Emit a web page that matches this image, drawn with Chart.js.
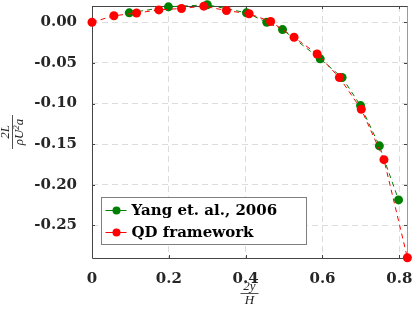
<!DOCTYPE html>
<html>
<head>
<meta charset="utf-8">
<script src="https://cdn.jsdelivr.net/npm/chart.js@4"></script>
<style>
html, body { margin: 0; padding: 0; background: #fff; }
#c { display: block; }
</style>
</head>
<body>
<canvas id="c" width="415" height="316"></canvas>
<script>
// Yang et. al., 2006
var yangX = [0.097, 0.199, 0.300, 0.402, 0.455, 0.496, 0.594, 0.651, 0.699, 0.748, 0.798];
var yangY = [0.0116, 0.019, 0.0215, 0.0116, 0.0, -0.009, -0.045, -0.068, -0.1025, -0.152, -0.2185];
// QD framework
var qdX = [0, 0.057, 0.116, 0.174, 0.233, 0.291, 0.350, 0.409, 0.465, 0.526, 0.586, 0.644, 0.701, 0.760, 0.821];
var qdY = [0, 0.0080, 0.0114, 0.0152, 0.0169, 0.0198, 0.0144, 0.0104, 0.0009, -0.0185, -0.039, -0.068, -0.107, -0.169, -0.2897];

var xTicks = [0, 0.2, 0.4, 0.6, 0.8];
var yTicks = [0, -0.05, -0.10, -0.15, -0.20, -0.25];
var seriesNames = ['Yang et. al., 2006', 'QD framework'];
var seriesColors = ['#008000', '#ff0000'];

function toPoints(xs, ys) {
    return xs.map(function (x, i) { return { x: x, y: ys[i] }; });
}

var tickFont = { family: 'DejaVu Serif', size: 15, weight: 'bold' };

// cadre, petites graduations internes, titres d'axes et légende
var decor = {
    id: 'decor',
    beforeDatasetsDraw: function (chart) {
        var ctx = chart.ctx, a = chart.chartArea;
        var xs = chart.scales.x, ys = chart.scales.y;
        ctx.save();
        ctx.lineWidth = 1;
        ctx.strokeStyle = '#9a9a9a';
        ctx.beginPath();
        ctx.moveTo(Math.round(a.right) + 0.5, Math.round(a.top));
        ctx.lineTo(Math.round(a.right) + 0.5, Math.round(a.bottom));
        ctx.stroke();
        ctx.strokeStyle = '#444';
        ctx.beginPath();
        ctx.moveTo(Math.round(a.left) + 0.5, Math.round(a.top) + 0.5);
        ctx.lineTo(Math.round(a.right) + 0.5, Math.round(a.top) + 0.5);
        ctx.moveTo(Math.round(a.left) + 0.5, Math.round(a.top));
        ctx.lineTo(Math.round(a.left) + 0.5, Math.round(a.bottom) + 0.5);
        ctx.lineTo(Math.round(a.right) + 0.5, Math.round(a.bottom) + 0.5);
        ctx.stroke();
        // graduations vers l'intérieur
        ctx.beginPath();
        xTicks.forEach(function (v) {
            var px = Math.round(xs.getPixelForValue(v)) + 0.5;
            ctx.moveTo(px, a.bottom); ctx.lineTo(px, a.bottom - 3);
            ctx.moveTo(px, a.top); ctx.lineTo(px, a.top + 3);
        });
        yTicks.forEach(function (v) {
            var py = Math.round(ys.getPixelForValue(v)) + 0.5;
            ctx.moveTo(a.left, py); ctx.lineTo(a.left + 3, py);
            ctx.moveTo(a.right, py); ctx.lineTo(a.right - 3, py);
        });
        ctx.stroke();
        ctx.restore();
    },
    afterDraw: function (chart) {
        var ctx = chart.ctx, a = chart.chartArea;
        ctx.save();
        ctx.fillStyle = '#262626';
        ctx.strokeStyle = '#262626';
        ctx.lineWidth = 0.8;
        ctx.textAlign = 'center';

        // titre axe x : 2y / H
        var cx = (a.left + a.right) / 2;
        ctx.textBaseline = 'alphabetic';
        ctx.font = 'italic 13px "Liberation Serif"';
        ctx.fillText('2y', cx, 290);
        ctx.beginPath();
        ctx.moveTo(cx - 9, 293.5); ctx.lineTo(cx + 9, 293.5);
        ctx.stroke();
        ctx.fillText('H', cx, 304);

        // titre axe y : 2L / (rho U^2 a)
        var cy = (a.top + a.bottom) / 2;
        ctx.translate(12, cy);
        ctx.rotate(-Math.PI / 2);
        ctx.fillText('2L', 0, -3);
        ctx.beginPath();
        ctx.moveTo(-17, 0.5); ctx.lineTo(17, 0.5);
        ctx.stroke();
        ctx.textAlign = 'left';
        var w1 = ctx.measureText('ρU').width;
        ctx.font = 'italic 9px "Liberation Serif"';
        var w2 = ctx.measureText('2').width;
        ctx.font = 'italic 13px "Liberation Serif"';
        var w3 = ctx.measureText('a').width;
        var x0 = -(w1 + w2 + w3) / 2;
        ctx.fillText('ρU', x0, 11);
        ctx.font = 'italic 9px "Liberation Serif"';
        ctx.fillText('2', x0 + w1, 7);
        ctx.font = 'italic 13px "Liberation Serif"';
        ctx.fillText('a', x0 + w1 + w2, 11);
        ctx.setTransform(1, 0, 0, 1, 0, 0);

        // légende
        var bx = Math.round(a.left) + 9.5, by = Math.round(a.bottom) - 60.5, bw = 205, bh = 47;
        ctx.fillStyle = '#fff';
        ctx.fillRect(bx, by, bw, bh);
        ctx.strokeStyle = '#7f7f7f';
        ctx.lineWidth = 1;
        ctx.strokeRect(bx, by, bw, bh);
        ctx.font = 'bold 15px "DejaVu Serif"';
        ctx.textAlign = 'left';
        ctx.textBaseline = 'middle';
        seriesNames.forEach(function (name, i) {
            var ry = by + 13 + i * 22;
            ctx.strokeStyle = seriesColors[i];
            ctx.lineWidth = 1;
            ctx.beginPath();
            ctx.moveTo(bx + 4, ry); ctx.lineTo(bx + 25, ry);
            ctx.stroke();
            ctx.fillStyle = seriesColors[i];
            ctx.beginPath();
            ctx.arc(bx + 15, ry, 4, 0, Math.PI * 2);
            ctx.fill();
            ctx.fillStyle = '#000';
            ctx.fillText(name, bx + 30, ry + 1);
        });
        ctx.restore();
    }
};

new Chart(document.getElementById('c'), {
    type: 'line',
    data: {
        datasets: [{
            label: seriesNames[0],
            data: toPoints(yangX, yangY),
            borderColor: seriesColors[0],
            backgroundColor: seriesColors[0],
            borderWidth: 1,
            borderDash: [5, 4],
            pointRadius: 4.5,
            pointBorderWidth: 0,
            pointHoverRadius: 4.5,
            clip: false,
            order: 1
        }, {
            label: seriesNames[1],
            data: toPoints(qdX, qdY),
            borderColor: seriesColors[1],
            backgroundColor: seriesColors[1],
            borderWidth: 1,
            borderDash: [5, 4],
            pointRadius: 4.5,
            pointBorderWidth: 0,
            pointHoverRadius: 4.5,
            clip: false,
            order: 0
        }]
    },
    options: {
        responsive: false,
        animation: false,
        devicePixelRatio: 1,
        layout: { padding: { left: 0, top: 6, right: 8, bottom: 0 } },
        plugins: {
            legend: { display: false },
            tooltip: { enabled: false }
        },
        scales: {
            x: {
                type: 'linear',
                min: 0,
                max: 0.82,
                afterBuildTicks: function (scale) {
                    scale.ticks = xTicks.map(function (v) { return { value: v }; });
                },
                afterFit: function (scale) {
                    scale.height = 58;
                    scale.paddingLeft = 0;
                    scale.paddingRight = 0;
                },
                grid: { color: '#dcdcdc', lineWidth: 1, drawTicks: false },
                border: { display: false, dash: [6, 4] },
                ticks: {
                    font: tickFont,
                    color: '#262626',
                    padding: 12,
                    maxRotation: 0,
                    callback: function (v) { return v === 0 ? '0' : v.toFixed(1); }
                }
            },
            y: {
                type: 'linear',
                min: -0.29,
                max: 0.02,
                afterBuildTicks: function (scale) {
                    scale.ticks = yTicks.map(function (v) { return { value: v }; });
                },
                afterFit: function (scale) {
                    scale.width = 92;
                    scale.paddingTop = 0;
                    scale.paddingBottom = 0;
                },
                grid: { color: '#dcdcdc', lineWidth: 1, drawTicks: false },
                border: { display: false, dash: [6, 4] },
                ticks: {
                    font: tickFont,
                    color: '#262626',
                    padding: 15,
                    callback: function (v) { return v.toFixed(2); }
                }
            }
        }
    },
    plugins: [decor]
});
</script>
</body>
</html>
